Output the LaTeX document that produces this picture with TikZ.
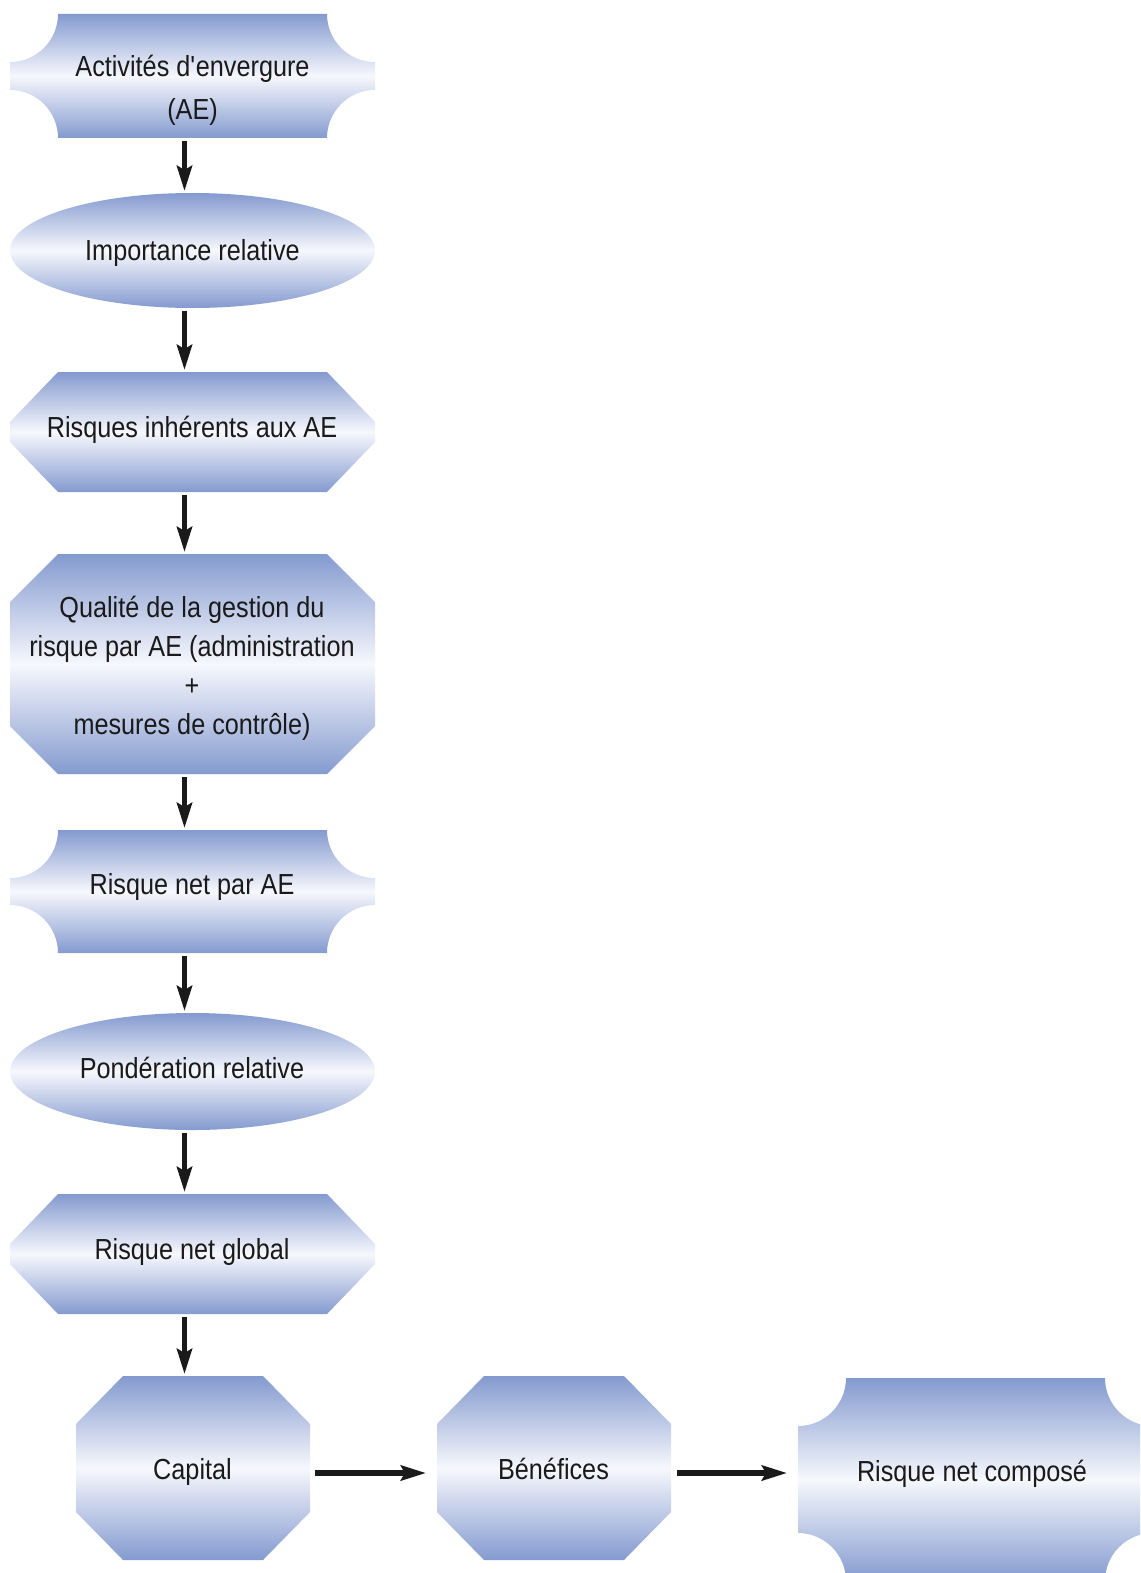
\documentclass[tikz,border=0pt]{standalone}
\usepackage{fontspec}
\setmainfont{Liberation Sans}[FakeStretch=0.87]
\usetikzlibrary{arrows.meta,shapes.geometric}
\definecolor{cTop}{RGB}{132,154,207}
\definecolor{cMid}{RGB}{247,248,253}
\definecolor{ink}{RGB}{26,26,26}
\newcommand\straightq{{\XeTeXglyph\XeTeXglyphindex "quotesingle"\relax}}
\tikzset{
  boxshade/.style={top color=cTop, bottom color=cTop, middle color=cMid, draw=none},
  anch/.style={rectangle, inner sep=0pt, outer sep=0pt, draw=none, fill=none},
  ellbox/.style={ellipse, inner sep=0pt, outer sep=0pt, boxshade},
  txt/.style={font=\fontsize{29}{39}\selectfont, text=ink, inner sep=0pt, align=center, anchor=base},
  arr/.style={draw=ink, line width=5.5pt, -{Stealth[length=25pt,width=15pt,inset=4pt]}, shorten <=3pt, shorten >=2pt},
}
\newcommand\concaveshape[4]{%
  \shade[boxshade] (#1+48,#2) -- (#3-48,#2) arc[start angle=180,end angle=90,radius=48]
    -- (#3,#4-48) arc[start angle=270,end angle=180,radius=48]
    -- (#1+48,#4) arc[start angle=360,end angle=270,radius=48]
    -- (#1,#2+48) arc[start angle=90,end angle=0,radius=48] -- cycle;}
\newcommand\octshape[6]{%
  \shade[boxshade] (#1+#5,#2) -- (#3-#5,#2) -- (#3,#2+#6) -- (#3,#4-#6)
    -- (#3-#5,#4) -- (#1+#5,#4) -- (#1,#4-#6) -- (#1,#2+#6) -- cycle;}
\begin{document}
\begin{tikzpicture}[x=1pt,y=-1pt]
\fill[white] (0,0) rectangle (1140,1573);
\useasboundingbox (0,0) rectangle (1140,1573);
\clip (0,0) rectangle (1140,1573);

% shapes
\concaveshape{10}{14}{375}{138}
\node[anch, minimum width=365pt, minimum height=124pt] (b1) at (192.5,76) {};
\node[ellbox, minimum width=365pt, minimum height=115pt] (b2) at (192.5,250.5) {};
\octshape{10}{372}{375}{492}{48}{50}
\node[anch, minimum width=365pt, minimum height=120pt] (b3) at (192.5,432) {};
\octshape{10}{554}{375}{774}{48}{48}
\node[anch, minimum width=365pt, minimum height=220pt] (b4) at (192.5,664) {};
\concaveshape{10}{830}{375}{953}
\node[anch, minimum width=365pt, minimum height=123pt] (b5) at (192.5,891.5) {};
\node[ellbox, minimum width=365pt, minimum height=117pt] (b6) at (192.5,1071.5) {};
\octshape{10}{1194}{375}{1314}{48}{50}
\node[anch, minimum width=365pt, minimum height=120pt] (b7) at (192.5,1254) {};
\octshape{76}{1376}{310}{1560}{47}{48}
\node[anch, minimum width=234pt, minimum height=184pt] (b8) at (193,1468) {};
\octshape{437}{1376}{671}{1560}{47}{48}
\node[anch, minimum width=234pt, minimum height=184pt] (b9) at (554,1468) {};
\concaveshape{798}{1378}{1153}{1581}
\node[anch, minimum width=355pt, minimum height=203pt] (b10) at (975.5,1479.5) {};

% texts (base = baseline of the last line)
\node[txt] (t1) at (192.5,120) {Activités d\straightq envergure\\[4pt](AE)};
\node[txt] (t2) at (192.5,260) {Importance relative};
\node[txt] (t3) at (192,437) {Risques inhérents aux AE};
\node[txt] (t4) at (192,734) {Qualité de la gestion du\\risque par AE (administration\\+\\mesures de contrôle)};
\node[txt] (t5) at (192,894) {Risque net par AE};
\node[txt] (t6) at (192,1078) {Pondération relative};
\node[txt] (t7) at (192,1259) {Risque net global};
\node[txt] (t8) at (192.5,1479) {Capital};
\node[txt] (t9) at (553.5,1479) {Bénéfices};
\node[txt] (t10) at (972,1481) {Risque net composé};

% connectors
\coordinate (ax) at (184.5,0);
\draw[arr] (b1.south -| ax) -- (b2.north -| ax);
\draw[arr] (b2.south -| ax) -- (b3.north -| ax);
\draw[arr] (b3.south -| ax) -- (b4.north -| ax);
\draw[arr] (b4.south -| ax) -- (b5.north -| ax);
\draw[arr] (b5.south -| ax) -- (b6.north -| ax);
\draw[arr] (b6.south -| ax) -- (b7.north -| ax);
\draw[arr] (b7.south -| ax) -- (b8.north -| ax);
\draw[arr, shorten <=5pt, shorten >=11pt] ([yshift=-5pt]b8.east) -- ([yshift=-5pt]b9.west);
\draw[arr, shorten <=6pt, shorten >=11pt] ([yshift=-5pt]b9.east) -- ([yshift=6.5pt]b10.west);
\end{tikzpicture}
\end{document}
